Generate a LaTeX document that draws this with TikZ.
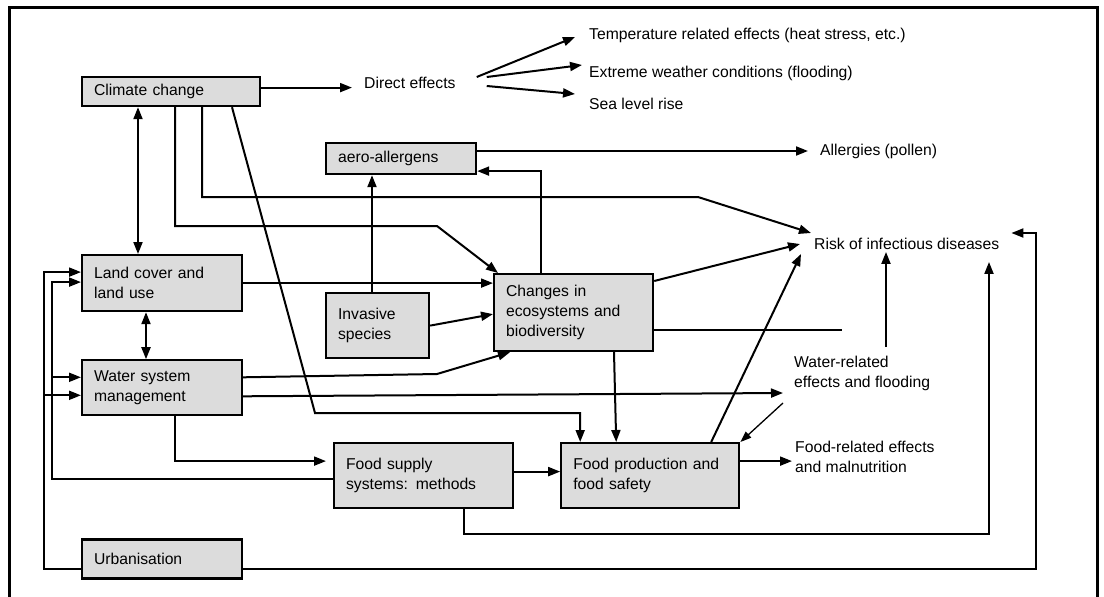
\documentclass[tikz,border=0pt]{standalone}
\usepackage{fontspec}
\setmainfont{Liberation Sans}
\usetikzlibrary{arrows.meta,positioning,calc}
\definecolor{boxgray}{RGB}{220,220,220}
\newcommand{\dfont}{\fontsize{15.7}{20}\selectfont}
\tikzset{
  cbox/.style={rectangle,draw,line width=2.2pt,fill=boxgray,inner xsep=12pt,inner ysep=0pt,align=left,font=\dfont},
  lbl/.style={inner sep=0pt,anchor=west,align=left,font=\dfont},
  ar/.style={-{Triangle[length=12pt,width=9pt]},line width=2pt},
  dar/.style={{Triangle[length=12pt,width=9pt]}-{Triangle[length=12pt,width=9pt]},line width=2pt},
  tar/.style={-{Triangle[length=11pt,width=8pt]},line width=1.3pt},
  ln/.style={line width=2pt}
}

\begin{document}
\begin{tikzpicture}[x=1pt,y=-1pt,node distance=46pt]
\useasboundingbox (0,0) rectangle (1104,597);
\draw[line width=3pt] (9,620) -- (9,7) -- (1097,7) -- (1097,620);

\node[cbox,anchor=north west,text width=154pt,minimum height=29pt] (cc) at (81,76) {Climate change};
\node[cbox,anchor=north west,text width=126pt,minimum height=31pt] (aero) at (325,142) {aero-allergens};
\node[cbox,anchor=north west,text width=136pt,minimum height=56pt] (land) at (81,254) {Land cover and\\land use};
\node[cbox,below=47pt of land,text width=136pt,minimum height=55pt] (wsm) {Water system\\management};
\node[cbox,anchor=north west,text width=79pt,minimum height=65pt] (inv) at (325,292) {Invasive\\species};
\node[cbox,anchor=north west,text width=135pt,minimum height=77pt] (eco) at (493,273) {Changes in\\ecosystems and\\biodiversity};
\node[cbox,anchor=north west,text width=155pt,minimum height=65pt] (fsup) at (333,442) {Food supply\\systems: methods};
\node[cbox,right=46pt of fsup,text width=154pt,minimum height=65pt] (fprod) {Food production and\\food safety};
\node[cbox,below=122pt of wsm,text width=136pt,minimum height=39pt] (urb) {Urbanisation};

\node[lbl] (direct) at (364,83) {Direct effects};
\node[lbl] (temp) at (589,35) {Temperature related effects (heat stress, etc.)};
\node[lbl] (extreme) at (589,73) {Extreme weather conditions (flooding)};
\node[lbl] (sea) at (589,104) {Sea level rise};
\node[lbl] (allerg) at (820,151) {Allergies (pollen)};
\node[lbl] (risk) at (814,244) {Risk of infectious diseases};
\node[lbl] (waterfx) at (794,373) {Water-related\\effects and flooding};
\node[lbl] (foodfx) at (795,457) {Food-related effects\\and malnutrition};

\coordinate (wstub) at (886,347);
\coordinate (fsloop) at (989,534);
\coordinate (urloop) at (1036,233);

\draw[ar,shorten >=12pt] ([yshift=4pt]cc.east) -- ([yshift=4pt]cc.east -| direct.west);
\draw[ar] ([xshift=21pt,yshift=6pt]direct.east) -- ([xshift=-14pt,yshift=-2pt]temp.west);
\draw[ar] ([xshift=31pt,yshift=6pt]direct.east) -- ([xshift=-7pt,yshift=8pt]extreme.west);
\draw[ar] ([xshift=31pt,yshift=-3pt]direct.east) -- ([xshift=-14pt,yshift=10pt]sea.west);

\draw[ar,shorten >=12pt] (aero.east |- allerg.west) -- (allerg.west);
\draw[ar] ([xshift=48pt]eco.north west) |- ([yshift=-12.5pt]aero.east);
\draw[ar] ([xshift=47pt]inv.north west) -- ([xshift=47pt]aero.south west);

\draw[dar] ([xshift=57pt]cc.south west) -- ([xshift=57pt]land.north west);
\draw[ar] ([xshift=94pt]cc.south west) |- (437,226) -- ([xshift=5pt]eco.north west);
\draw[ar] ([xshift=121pt]cc.south west) |- (698,197) -- ([xshift=-3pt,yshift=11pt]risk.west);
\draw[ar] ([xshift=151pt]cc.south west) -- (315,413) -| ([xshift=20pt]fprod.north west);

\draw[ar] (land.east) -- (land.east -| eco.west);
\draw[dar] ([xshift=65pt]land.south west) -- ([xshift=65pt]wsm.north west);
\draw[ar] ([yshift=10.5pt]wsm.east) -- (437,374) -- ([xshift=17pt]eco.south west);
\draw[ar] ([yshift=-8.5pt]wsm.east) -- ([xshift=-11pt,yshift=-20pt]waterfx.west);
\draw[ar,shorten >=7pt] ([xshift=94pt]wsm.south west) |- ([yshift=14.5pt]fsup.west);

\draw[ar] (inv.east) -- ([yshift=-1.5pt]eco.west);
\draw[ar] ([yshift=-8pt]eco.north east) -- ([xshift=-14pt]risk.west);
\draw[ln] ([yshift=-17.5pt]eco.east) -- ++(188,0);
\draw[ar,shorten >=2pt] (wstub) -- (wstub |- risk.south);
\draw[ar] ([xshift=121pt]eco.south west) -- ([xshift=56pt]fprod.north west);

\draw[ar] ([yshift=4pt]fsup.east) -- ([yshift=4pt]fprod.west);
\draw[ar] ([xshift=151pt]fprod.north west) -- ([xshift=-13pt,yshift=-10pt]risk.west);
\draw[ar,shorten >=3pt] ([yshift=14.5pt]fprod.east) -- ([yshift=14.5pt]fprod.east -| foodfx.west);
\draw[tar] ([xshift=-11pt,yshift=-30pt]waterfx.west) -- (fprod.north east);
\draw[ar,shorten >=12pt] ([xshift=131pt]fsup.south west) |- (fsloop) -- (fsloop |- risk.south);

\draw[ar,shorten >=12pt] ([yshift=-9.5pt]urb.east) -| (urloop) -- (urloop -| risk.east);
\draw[ar] ([yshift=-9.5pt]urb.west) -| ([xshift=-37pt,yshift=11pt]land.west) -- ([yshift=11pt]land.west);
\draw[ar] ([xshift=-37pt,yshift=-7.5pt]wsm.west) -- ([yshift=-7.5pt]wsm.west);
\draw[ar] ([yshift=-3.5pt]fsup.west) -| ([xshift=-29pt,yshift=1pt]land.west) -- ([yshift=1pt]land.west);
\draw[ar] ([xshift=-29pt,yshift=10.5pt]wsm.west) -- ([yshift=10.5pt]wsm.west);
\end{tikzpicture}
\end{document}
